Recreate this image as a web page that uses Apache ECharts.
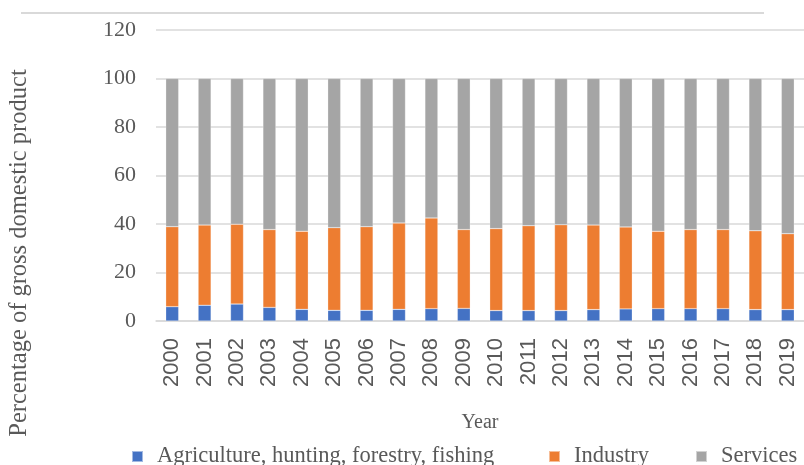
<!DOCTYPE html>
<html>
<head>
<meta charset="utf-8">
<script src="https://cdn.jsdelivr.net/npm/echarts@6/dist/echarts.min.js"></script>
<style>html,body{margin:0;padding:0;background:#fff;}#c{width:804px;height:465px;}</style>
</head>
<body>
<div id="c"></div>
<script>
const years = ['2000','2001','2002','2003','2004','2005','2006','2007','2008','2009','2010','2011','2012','2013','2014','2015','2016','2017','2018','2019'];
const agriculture = [5.9,6.5,7.0,5.6,4.8,4.4,4.4,4.8,5.1,5.2,4.3,4.3,4.3,4.7,5.0,5.1,5.1,5.1,4.7,4.7];
const industry = [33.0,33.1,32.9,32.1,32.2,34.1,34.5,35.6,37.4,32.5,33.8,35.0,35.4,34.9,33.8,31.9,32.6,32.6,32.5,31.3];
const services = [61.1,60.4,60.1,62.3,63.0,61.5,61.1,59.6,57.5,62.3,61.9,60.7,60.3,60.4,61.2,63.0,62.3,62.3,62.8,64.0];
const yTicks = [0,20,40,60,80,100,120];
const names = ['Agriculture, hunting, forestry, fishing','Industry','Services'];
const colors = ['#4472C4','#ED7D31','#A5A5A5'];

const chart = echarts.init(document.getElementById('c'));
const serif = 'Liberation Serif, Times New Roman, serif';
function bar(name, data, color){
  return {name, type:'bar', stack:'total', data, barWidth:'40%',
    itemStyle:{color, borderColor:'rgba(255,255,255,0.5)', borderWidth:0.5}};
}
function legend(name, left){
  return {left, top:440, itemWidth:11, itemHeight:11, icon:'rect', data:[name],
    textStyle:{fontFamily:serif, fontSize:22.5, color:'#595959', padding:[0,0,0,9]}};
}
chart.setOption({
  animation:false,
  color: colors,
  grid:{left:156, right:-6, top:30, bottom:144, containLabel:false},
  xAxis:{type:'category', data:years,
    axisLine:{lineStyle:{color:'#D9D9D9', width:1.5}},
    axisTick:{show:false},
    axisLabel:{rotate:90, color:'#595959', fontFamily:'Liberation Sans, Arial, sans-serif', fontSize:22, margin:17},
    name:'Year', nameLocation:'middle', nameGap:92,
    nameTextStyle:{fontFamily:serif, fontSize:20, color:'#595959'}
  },
  yAxis:{type:'value', min:yTicks[0], max:yTicks[yTicks.length-1], interval:20,
    axisLine:{show:false}, axisTick:{show:false},
    splitLine:{lineStyle:{color:'#D9D9D9', width:1.5}},
    axisLabel:{color:'#595959', fontFamily:serif, fontSize:22, margin:20}
  },
  legend:[legend(names[0],126), legend(names[1],543), legend(names[2],690)],
  graphic:[
    {type:'line', shape:{x1:21, y1:13, x2:764, y2:13}, style:{stroke:'#D9D9D9', lineWidth:2}},
    {type:'text', x:20, y:253, rotation:Math.PI/2,
      style:{text:'Percentage of gross domestic product', font:'24.5px ' + serif, fill:'#595959', align:'center', verticalAlign:'middle'}}
  ],
  series:[bar(names[0], agriculture, colors[0]), bar(names[1], industry, colors[1]), bar(names[2], services, colors[2])]
});
</script>
</body>
</html>
